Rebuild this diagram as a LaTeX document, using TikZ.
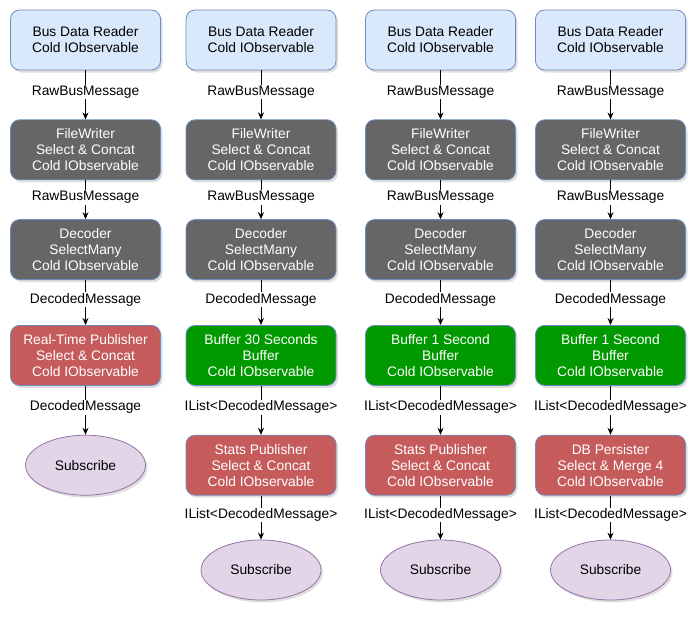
\documentclass[tikz,border=0pt]{standalone}
\usepackage{fontspec}
\setmainfont{Liberation Sans}
\usetikzlibrary{positioning,shadows,arrows.meta,shapes.geometric}

\definecolor{srcfill}{HTML}{DAE8FC}
\definecolor{boxline}{HTML}{6C8EBF}
\definecolor{opfill}{HTML}{666666}
\definecolor{buffill}{HTML}{009900}
\definecolor{pubfill}{HTML}{C65B5B}
\definecolor{subfill}{HTML}{E1D5E7}
\definecolor{subline}{HTML}{9673A6}

\begin{document}
\begin{tikzpicture}[
  x=1pt, y=-1pt,
  font=\fontsize{13.8}{16}\selectfont,
  stage/.style={rectangle, draw=boxline, rounded corners=9pt, line width=0.8pt,
                minimum width=150pt, minimum height=60pt, align=center,
                drop shadow={shadow xshift=2pt, shadow yshift=-2.5pt, opacity=0.25}},
  source/.style={stage, fill=srcfill},
  operator/.style={stage, fill=opfill, text=white},
  buffer/.style={stage, fill=buffill, text=white},
  publisher/.style={stage, fill=pubfill, text=white},
  sink/.style={ellipse, draw=subline, fill=subfill, line width=0.8pt,
               minimum width=120pt, minimum height=60pt, inner sep=0pt,
               drop shadow={shadow xshift=2pt, shadow yshift=-2.5pt, opacity=0.25}},
  flow/.style={-{Stealth[length=7pt,width=6pt]}, line width=0.8pt},
  msg/.style={fill=white, inner sep=1pt, pos=0.44}
]
\useasboundingbox (0,0) rectangle (699,616);

% column 1: real-time
\node[source] (reader1) at (85.5,40) {Bus Data Reader\\Cold IObservable};
\node[operator, below=49pt of reader1] (writer1) {FileWriter\\Select \& Concat\\Cold IObservable};
\node[operator, below=39pt of writer1] (decoder1) {Decoder\\SelectMany\\Cold IObservable};
\node[publisher, below=45pt of decoder1] (realtime1) {Real-Time Publisher\\Select \& Concat\\Cold IObservable};
\node[sink, below=49pt of realtime1] (subscribe1) {Subscribe};

\draw[flow] (reader1) -- node[msg]{RawBusMessage} (writer1);
\draw[flow] (writer1) -- node[msg]{RawBusMessage} (decoder1);
\draw[flow] (decoder1) -- node[msg]{DecodedMessage} (realtime1);
\draw[flow] (realtime1) -- node[msg]{DecodedMessage} (subscribe1);

% column 2: stats over 30 seconds
\node[source] (reader2) at (261,40) {Bus Data Reader\\Cold IObservable};
\node[operator, below=49pt of reader2] (writer2) {FileWriter\\Select \& Concat\\Cold IObservable};
\node[operator, below=39pt of writer2] (decoder2) {Decoder\\SelectMany\\Cold IObservable};
\node[buffer, below=45pt of decoder2] (buffer2) {Buffer 30 Seconds\\Buffer\\Cold IObservable};
\node[publisher, below=49pt of buffer2] (stats2) {Stats Publisher\\Select \& Concat\\Cold IObservable};
\node[sink, below=44pt of stats2] (subscribe2) {Subscribe};

\draw[flow] (reader2) -- node[msg]{RawBusMessage} (writer2);
\draw[flow] (writer2) -- node[msg]{RawBusMessage} (decoder2);
\draw[flow] (decoder2) -- node[msg]{DecodedMessage} (buffer2);
\draw[flow] (buffer2) -- node[msg]{IList<DecodedMessage>} (stats2);
\draw[flow] (stats2) -- node[msg]{IList<DecodedMessage>} (subscribe2);

% column 3: stats per second
\node[source] (reader3) at (440.5,40) {Bus Data Reader\\Cold IObservable};
\node[operator, below=49pt of reader3] (writer3) {FileWriter\\Select \& Concat\\Cold IObservable};
\node[operator, below=39pt of writer3] (decoder3) {Decoder\\SelectMany\\Cold IObservable};
\node[buffer, below=45pt of decoder3] (buffer3) {Buffer 1 Second\\Buffer\\Cold IObservable};
\node[publisher, below=49pt of buffer3] (stats3) {Stats Publisher\\Select \& Concat\\Cold IObservable};
\node[sink, below=44pt of stats3] (subscribe3) {Subscribe};

\draw[flow] (reader3) -- node[msg]{RawBusMessage} (writer3);
\draw[flow] (writer3) -- node[msg]{RawBusMessage} (decoder3);
\draw[flow] (decoder3) -- node[msg]{DecodedMessage} (buffer3);
\draw[flow] (buffer3) -- node[msg]{IList<DecodedMessage>} (stats3);
\draw[flow] (stats3) -- node[msg]{IList<DecodedMessage>} (subscribe3);

% column 4: database
\node[source] (reader4) at (610.5,40) {Bus Data Reader\\Cold IObservable};
\node[operator, below=49pt of reader4] (writer4) {FileWriter\\Select \& Concat\\Cold IObservable};
\node[operator, below=39pt of writer4] (decoder4) {Decoder\\SelectMany\\Cold IObservable};
\node[buffer, below=45pt of decoder4] (buffer4) {Buffer 1 Second\\Buffer\\Cold IObservable};
\node[publisher, below=49pt of buffer4] (persister4) {DB Persister\\Select \& Merge 4\\Cold IObservable};
\node[sink, below=44pt of persister4] (subscribe4) {Subscribe};

\draw[flow] (reader4) -- node[msg]{RawBusMessage} (writer4);
\draw[flow] (writer4) -- node[msg]{RawBusMessage} (decoder4);
\draw[flow] (decoder4) -- node[msg]{DecodedMessage} (buffer4);
\draw[flow] (buffer4) -- node[msg]{IList<DecodedMessage>} (persister4);
\draw[flow] (persister4) -- node[msg]{IList<DecodedMessage>} (subscribe4);
\end{tikzpicture}
\end{document}
